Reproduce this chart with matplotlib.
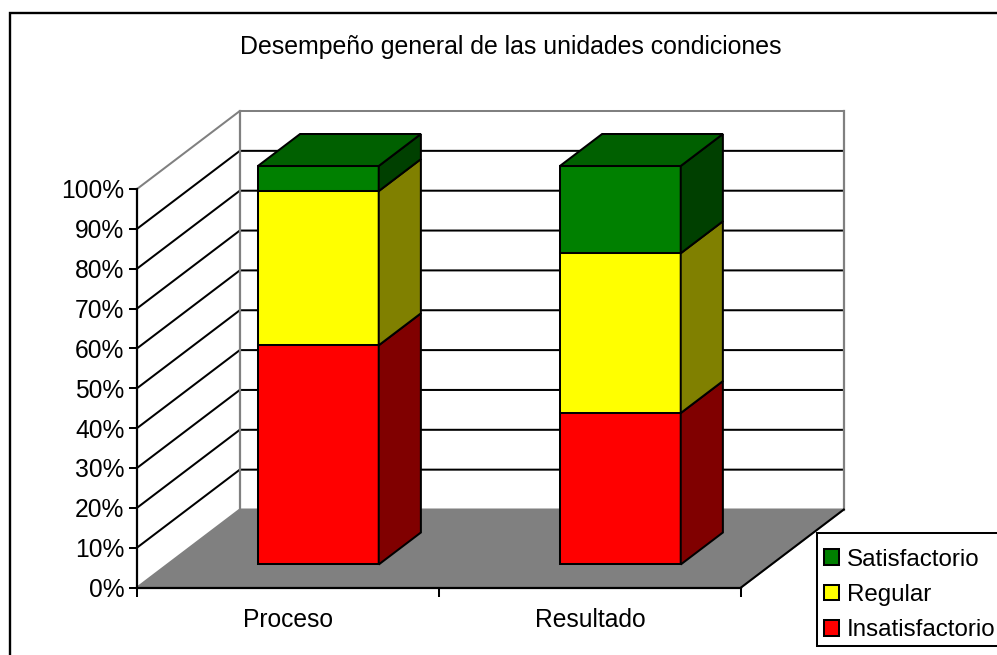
import matplotlib
matplotlib.use("Agg")
import matplotlib.pyplot as plt
from matplotlib.patches import Polygon, Rectangle

plt.rcParams['font.family'] = ['Liberation Sans', 'DejaVu Sans']

title = "Desempeño general de las unidades condiciones"
categories = ["Proceso", "Resultado"]
series_names = ["Insatisfactorio", "Regular", "Satisfactorio"]
insatisfactorio = [55.0, 38.0]
regular = [38.7, 40.1]
satisfactorio = [6.3, 21.9]
ytick_values = [0, 10, 20, 30, 40, 50, 60, 70, 80, 90, 100]
ytick_labels = [f"{v}%" for v in ytick_values]

front_colors = ["#ff0000", "#ffff00", "#008000"]
side_colors = ["#800000", "#808000", "#004000"]
top_colors = ["#800000", "#808000", "#006000"]

W, H = 997, 655
fig = plt.figure(figsize=(W / 100, H / 100), dpi=100, facecolor="white")

# main axes = front plane of the 3D box
L, R, T, B = 137, 741, 189, 587.5
ax = fig.add_axes([L / W, 1 - B / H, (R - L) / W, (B - T) / H])
ax.set_xlim(0, 2)
ax.set_ylim(0, 100)
ax.patch.set_alpha(0)

# oblique depth: full depth shifts +103 px, 78 px up
DX = 102.8 / ((R - L) / 2)
DY = 78 / ((B - T) / 100)


def pr(x, y, d):
    return (x + d * DX, y + d * DY)


def face(pts, fc, ec="black", lw=1.45, z=2):
    ax.add_patch(Polygon(pts, closed=True, facecolor=fc, edgecolor=ec, linewidth=lw,
                         zorder=z, clip_on=False, joinstyle="miter"))


GRAY = "#808080"
# floor
face([pr(0, 0, 0), pr(2, 0, 0), pr(2, 0, 1), pr(0, 0, 1)], GRAY, ec=GRAY, z=1)
# gridlines
for v in ytick_values[1:]:
    col = GRAY if v == 100 else "black"
    a, b, c = pr(0, v, 0), pr(0, v, 1), pr(2, v, 1)
    ax.plot([a[0], b[0], c[0]], [a[1], b[1], c[1]], color=col, lw=1.45, zorder=1.2,
            clip_on=False, solid_joinstyle="miter")
# wall verticals and floor edges
for x in (0, 2):
    a, b = pr(x, 0, 1), pr(x, 100, 1)
    ax.plot([a[0], b[0]], [a[1], b[1]], color=GRAY, lw=1.6, zorder=1.3, clip_on=False)
a, b = pr(2, 0, 0), pr(2, 0, 1)
ax.plot([a[0], b[0]], [a[1], b[1]], color="black", lw=1.45, zorder=1.3, clip_on=False)

# stacked bars
bar_half = 0.2
d0, d1 = 0.295, 0.705
stack = [insatisfactorio, regular, satisfactorio]
for i in range(len(categories)):
    x0, x1 = i + 0.5 - bar_half, i + 0.5 + bar_half
    base = 0.0
    for k, values in enumerate(stack):
        top = base + values[i]
        face([pr(x0, base, d0), pr(x1, base, d0), pr(x1, top, d0), pr(x0, top, d0)],
             front_colors[k], z=3 + k)
        face([pr(x1, base, d0), pr(x1, base, d1), pr(x1, top, d1), pr(x1, top, d0)],
             side_colors[k], z=3 + k)
        base = top
    face([pr(x0, base, d0), pr(x1, base, d0), pr(x1, base, d1), pr(x0, base, d1)],
         top_colors[-1], z=7)

# axes
for s in ("top", "right"):
    ax.spines[s].set_visible(False)
for s in ("left", "bottom"):
    ax.spines[s].set_linewidth(1.6)
    ax.spines[s].set_zorder(8)
ax.set_yticks(ytick_values, ytick_labels, fontsize=17.75)
ax.tick_params(axis="y", length=6, width=1.45, pad=3)
ax.set_xticks([0, 1, 2], ["", "", ""])
ax.tick_params(axis="x", which="major", length=6.5, width=1.45)
ax.set_xticks([0.5, 1.5], categories, minor=True, fontsize=17.75)
ax.tick_params(axis="x", which="minor", length=0, pad=15)

# title
fig.text(511 / W, 1 - 47 / H, title, ha="center", va="center", fontsize=17.9)

# chart frame (runs off the right and bottom edges as in the source)
fig.add_artist(Rectangle((10 / W, -0.05), 1.05, 1 - 13 / H + 0.05, transform=fig.transFigure,
                         fill=False, edgecolor="black", linewidth=1.7, zorder=0))

# legend box, drawn apart so its inner margins can differ top and bottom
fig.add_artist(Rectangle((816.5 / W, 1 - 645.5 / H), 0.2, 112.5 / H, transform=fig.transFigure,
                         facecolor="white", edgecolor="black", linewidth=1.45, zorder=4))
handles = [Rectangle((0, 0), 1, 1, facecolor=front_colors[k], edgecolor="black", linewidth=1.45)
           for k in (2, 1, 0)]
leg = fig.legend(handles, [series_names[k] for k in (2, 1, 0)],
                 loc="lower left", bbox_to_anchor=(816.5 / W, 1 - 648.5 / H),
                 bbox_transform=fig.transFigure, fontsize=17.4, frameon=False,
                 borderaxespad=0, borderpad=0.3,
                 handlelength=0.62, handleheight=0.62, handletextpad=0.34, labelspacing=0.55)
leg.set_zorder(5)

fig.savefig("out.png", dpi=100, facecolor="white")
